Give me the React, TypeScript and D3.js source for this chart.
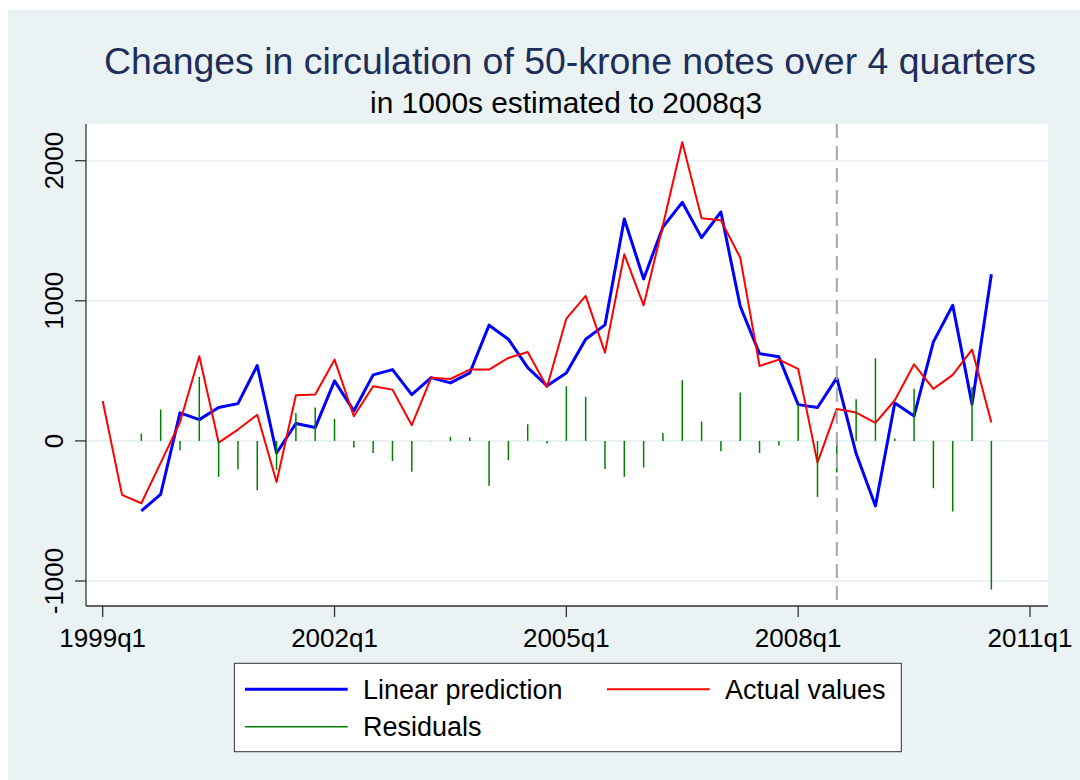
import * as d3 from 'd3';

// quarterly series, 4-quarter changes in 1000s
const actualStart = '1999q1';
const actualValues = [
  285, -385, -445, -157, 133, 604, -12, 81, 186, -293, 326, 331, 580, 176, 390, 366,
  112, 450, 442, 509, 509, 592, 635, 385, 873, 1035, 630, 1332, 968, 1539, 2132, 1589,
  1575, 1308, 535, 580, 514, -155, 228, 202, 128, 290, 547, 371, 471, 652, 131,
];

const predStart = '1999q3';
const predicted = [
  -500, -381, 200, 152, 238, 266, 538, -86, 124, 95, 428, 214, 471, 509, 330, 452,
  414, 485, 826, 726, 523, 393, 485, 726, 828, 1584, 1156, 1527, 1703, 1451, 1634, 961,
  623, 600, 259, 238, 450, -90, -464, 271, 178, 707, 968, 262, 1190,
];

const residuals = [
  52, 224, -67, 457, -257, -202, -352, -207, 200, 238, 157, -48, -86, -143, -221, -3,
  29, 24, -321, -138, 119, -19, 390, 314, -200, -257, -190, 57, 433, 138, -74, 345,
  -86, -33, 259, -400, -226, 297, 590, 17, 373, -338, -504, 385, -1061,
];

const xTicks = ['1999q1', '2002q1', '2005q1', '2008q1', '2011q1'];
const yTicks = [-1000, 0, 1000, 2000];
const cutoffQuarter = '2008q3';

const legendItems = [
  { label: 'Linear prediction', color: '#0000ff', width: 3 },
  { label: 'Actual values', color: '#ff0000', width: 2 },
  { label: 'Residuals', color: '#008000', width: 1.5 },
];

const qIndex = (s: string) => {
  const [yr, q] = s.split('q').map(Number);
  return yr * 4 + (q - 1);
};

const font = '"Liberation Sans", Arial, sans-serif';
const bg = '#eaf2f3';

export default function App() {
  const plot = { left: 86, right: 1048, top: 124, bottom: 606 };

  const x = d3
    .scaleLinear()
    .domain([qIndex('1999q1'), qIndex('2011q1')])
    .range([102.7, 1030]);
  const y = d3.scaleLinear().domain([-1000, 2000]).range([581, 160.7]);

  const a0 = qIndex(actualStart);
  const p0 = qIndex(predStart);

  const lineA = d3
    .line<number>()
    .x((_, i) => x(a0 + i))
    .y((d) => y(d));
  const lineP = d3
    .line<number>()
    .x((_, i) => x(p0 + i))
    .y((d) => y(d));

  const cutX = x(qIndex(cutoffQuarter));

  return (
    <svg
      width={1080}
      height={780}
      style={{ position: 'absolute', left: 0, top: 0 }}
      fontFamily={font}
    >
      <rect x={0} y={0} width={1080} height={780} fill="#ffffff" />
      <rect x={8} y={10} width={1072} height={770} fill={bg} />
      <rect
        x={plot.left}
        y={plot.top}
        width={plot.right - plot.left}
        height={plot.bottom - plot.top}
        fill="#ffffff"
      />

      {/* grid */}
      {yTicks.map((t) => (
        <line
          key={'g' + t}
          x1={plot.left}
          x2={plot.right}
          y1={y(t)}
          y2={y(t)}
          stroke={bg}
          strokeWidth={2}
        />
      ))}

      {/* series */}
      <path d={lineP(predicted) || ''} fill="none" stroke="#0000ff" strokeWidth={3} strokeLinejoin="round" />
      <path d={lineA(actualValues) || ''} fill="none" stroke="#ff0000" strokeWidth={2} strokeLinejoin="round" />
      {residuals.map((r, i) => (
        <line
          key={'r' + i}
          x1={x(p0 + i)}
          x2={x(p0 + i)}
          y1={y(0)}
          y2={y(r)}
          stroke="#008000"
          strokeWidth={1.5}
        />
      ))}

      <line
        x1={cutX}
        x2={cutX}
        y1={plot.top}
        y2={plot.bottom}
        stroke="#a6a6a6"
        strokeWidth={2}
        strokeDasharray="14,8"
      />

      {/* axes */}
      <line x1={plot.left} x2={plot.left} y1={plot.top} y2={plot.bottom} stroke="#333" strokeWidth={1.3} />
      <line x1={plot.left} x2={plot.right} y1={plot.bottom} y2={plot.bottom} stroke="#333" strokeWidth={1.3} />
      {yTicks.map((t) => (
        <g key={'yt' + t}>
          <line x1={plot.left - 11} x2={plot.left} y1={y(t)} y2={y(t)} stroke="#333" strokeWidth={1.3} />
          <text
            transform={`translate(63.3,${y(t)}) rotate(-90)`}
            textAnchor="middle"
            fontSize={26}
            fill="#000"
          >
            {t}
          </text>
        </g>
      ))}
      {xTicks.map((t) => (
        <g key={'xt' + t}>
          <line
            x1={x(qIndex(t))}
            x2={x(qIndex(t))}
            y1={plot.bottom}
            y2={plot.bottom + 11}
            stroke="#333"
            strokeWidth={1.3}
          />
          <text x={x(qIndex(t))} y={647.3} textAnchor="middle" fontSize={26} fill="#000">
            {t}
          </text>
        </g>
      ))}

      {/* titles */}
      <text
        x={570}
        y={73.5}
        textAnchor="middle"
        fontSize={37.5}
        fill="#1e2d5a"
        textLength={932}
        lengthAdjust="spacingAndGlyphs"
      >
        Changes in circulation of 50-krone notes over 4 quarters
      </text>
      <text
        x={566}
        y={113}
        textAnchor="middle"
        fontSize={30}
        fill="#000"
        textLength={392}
        lengthAdjust="spacingAndGlyphs"
      >
        in 1000s estimated to 2008q3
      </text>

      {/* legend */}
      <rect x={234.4} y={663.3} width={666.9} height={88.4} fill="#fff" stroke="#333" strokeWidth={1} />
      {legendItems.map((it, i) => {
        const col = i === 1 ? 1 : 0;
        const row = i === 2 ? 1 : 0;
        const kx = col === 0 ? 245 : 607;
        const cy = row === 0 ? 689.3 : 726.7;
        return (
          <g key={it.label}>
            <line x1={kx} x2={kx + 102.7} y1={cy} y2={cy} stroke={it.color} strokeWidth={it.width} />
            <text x={kx + 118} y={cy + 9.7} fontSize={27} fill="#000">
              {it.label}
            </text>
          </g>
        );
      })}
    </svg>
  );
}
